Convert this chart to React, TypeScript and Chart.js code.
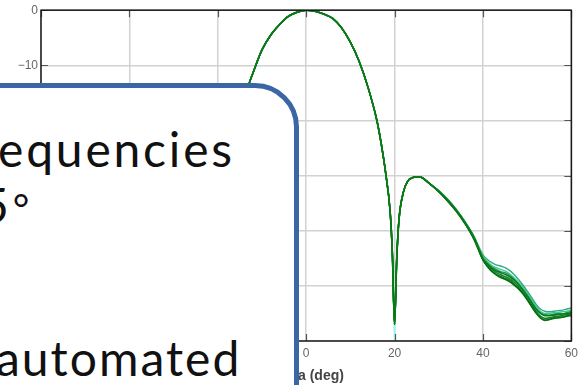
import React, { useEffect, useRef } from "react";
import { Chart, registerables } from "chart.js";

Chart.register(...registerables);

// Shared beam (theta in deg, gain in dB) up to the first sidelobe
const beamTheta = [-60, -56, -52, -48, -44, -40, -36, -32, -28, -25, -23, -22, -21, -20.5, -20, -19.5, -19, -18, -17, -16, -14, -13, -12, -10, -8, -6, -4, -2, 0, 2, 4, 6, 8, 10, 12, 14, 16, 17, 18, 19, 19.5, 20, 20.5, 21, 22, 23, 24, 25, 26, 28];
const beamGain = [-55, -55.5, -54, -49.5, -47.6, -44.5, -38.6, -34.4, -31.5, -30.2, -31, -33, -38, -45, -57, -44, -37.5, -31, -26, -22, -16, -13.5, -11.3, -7.2, -4.5, -2.6, -1.1, -0.35, 0, -0.2, -0.7, -1.5, -3.2, -5.8, -9.3, -14.0, -20.0, -24.3, -29.6, -36.5, -44, -57, -45, -38, -33, -31, -30.4, -30.2, -30.3, -31.5];

// Tail region, where the individual traces spread apart
const tailTheta = [30, 32, 34, 36, 38, 40, 41, 42, 43, 44, 45, 46, 47, 48, 49, 50, 51, 52, 53, 54, 55, 56, 57, 58, 59, 60];
const tailA = [-32.7, -34.3, -36.2, -38.4, -41.0, -44.4, -45.2, -45.8, -46.2, -46.4, -46.7, -47.2, -47.9, -48.8, -49.8, -50.9, -52.1, -53.3, -54.2, -54.6, -54.7, -54.6, -54.5, -54.4, -54.2, -54.0];
const tailB = [-32.9, -34.6, -36.5, -38.8, -41.6, -45.3, -46.5, -47.4, -48.0, -48.5, -48.8, -49.2, -49.8, -50.5, -51.4, -52.5, -53.7, -54.9, -55.8, -56.2, -56.1, -55.9, -55.8, -55.7, -55.5, -55.4];
const tailC = [-32.8, -34.4, -36.3, -38.5, -41.2, -44.7, -45.6, -46.3, -46.7, -47.0, -47.3, -47.8, -48.5, -49.3, -50.2, -51.3, -52.5, -53.7, -54.6, -55.0, -55.0, -54.8, -54.8, -54.7, -54.6, -54.4];
const tailD = [-32.8, -34.4, -36.3, -38.6, -41.3, -45.0, -46.0, -46.8, -47.3, -47.6, -47.9, -48.3, -48.9, -49.7, -50.7, -51.8, -53.0, -54.2, -55.0, -55.4, -55.4, -55.3, -55.2, -55.1, -55.0, -54.9];
const tailE = [-32.9, -34.5, -36.4, -38.7, -41.4, -45.2, -46.2, -47.0, -47.6, -48.0, -48.3, -48.7, -49.3, -50.1, -51.1, -52.2, -53.4, -54.6, -55.5, -55.9, -55.8, -55.6, -55.5, -55.4, -55.2, -55.1];
const tailF = [-32.7, -34.3, -36.2, -38.5, -41.2, -44.9, -45.8, -46.5, -47.0, -47.4, -47.6, -48.0, -48.7, -49.6, -50.5, -51.5, -52.8, -54.0, -54.8, -55.2, -55.3, -55.1, -55.0, -55.1, -54.8, -54.6];
const tailG = [-32.9, -34.6, -36.5, -38.7, -41.5, -45.3, -46.4, -47.3, -47.9, -48.3, -48.6, -49.0, -49.6, -50.4, -51.3, -52.5, -53.7, -54.9, -55.8, -56.3, -56.1, -55.8, -55.6, -55.7, -55.4, -55.3];

// Deepest part of the null seen in a lighter trace
const nullTheta = [19.5, 20, 20.5];
const nullGain = [-44, -60, -45];

const traceColors = ["#0b7a14", "#067012", "#12822a", "#2fae7c", "#46c29c", "#1f9a5c", "#0f7b1e"];

const xTicks = [-60, -40, -20, 0, 20, 40, 60];
const yTicks = [-60, -50, -40, -30, -20, -10, 0];

const fmt = (v: number) => (v < 0 ? "\u2212" + Math.abs(v) : String(v));

export default function App() {
  const ref = useRef<HTMLCanvasElement>(null);

  useEffect(() => {
    if (!ref.current) return;
    const tails = [tailD, tailB, tailE, tailA, tailC, tailF, tailG];
    const datasets: any[] = tails.map((t, k) => ({
      data: beamTheta
        .map((x, i) => ({ x, y: beamGain[i] }))
        .concat(tailTheta.map((x, i) => ({ x, y: t[i] }))),
      borderColor: traceColors[k],
      borderWidth: k < 3 ? 1.6 : 1.4,
      pointRadius: 0,
      fill: false,
      cubicInterpolationMode: "monotone",
    }));
    datasets.push({
      data: nullTheta.map((x, i) => ({ x, y: nullGain[i] })),
      borderColor: "#9ff3ec",
      borderWidth: 1.5,
      pointRadius: 0,
      fill: false,
    });

    const frame = {
      id: "frame",
      afterDatasetsDraw(chart: any) {
        const { ctx, chartArea: a, scales } = chart;
        ctx.save();
        ctx.strokeStyle = "#555";
        ctx.lineWidth = 1.2;
        ctx.beginPath();
        xTicks.forEach((v) => {
          const px = Math.round(scales.x.getPixelForValue(v)) + 0.5;
          ctx.moveTo(px, a.bottom);
          ctx.lineTo(px, a.bottom - 7);
          ctx.moveTo(px, a.top);
          ctx.lineTo(px, a.top + 7);
        });
        yTicks.forEach((v) => {
          const py = Math.round(scales.y.getPixelForValue(v)) + 0.5;
          ctx.moveTo(a.left, py);
          ctx.lineTo(a.left + 7, py);
          ctx.moveTo(a.right, py);
          ctx.lineTo(a.right - 7, py);
        });
        ctx.stroke();
        ctx.strokeStyle = "#1a1a1a";
        ctx.lineWidth = 1.5;
        ctx.strokeRect(a.left, a.top, a.right - a.left, a.bottom - a.top);
        ctx.restore();
      },
    };

    const chart = new Chart(ref.current, {
      type: "line",
      data: { datasets },
      options: {
        animation: false,
        responsive: false,
        maintainAspectRatio: false,
        layout: { padding: { left: 0, top: 7, right: 9, bottom: 0 } },
        plugins: { legend: { display: false }, tooltip: { enabled: false } },
        scales: {
          x: {
            type: "linear",
            min: -60,
            max: 60,
            afterBuildTicks: (s: any) => {
              s.ticks = xTicks.map((v) => ({ value: v }));
            },
            ticks: {
              color: "#666",
              font: { family: "Liberation Sans", size: 12 },
              padding: 5,
              maxRotation: 0,
              callback: (v: any) => fmt(Number(v)),
            },
            grid: { color: "#d2d2d2", lineWidth: 1.5, drawTicks: false },
            border: { display: false },
            title: {
              display: true,
              text: "Theta (deg)",
              color: "#444",
              font: { family: "Liberation Sans", size: 14, weight: "bold" },
              padding: { top: 1, bottom: 0 },
            },
            afterFit: (s: any) => {
              s.height = 44;
            },
          },
          y: {
            type: "linear",
            min: -60,
            max: 0,
            afterBuildTicks: (s: any) => {
              s.ticks = yTicks.map((v) => ({ value: v }));
            },
            ticks: {
              color: "#666",
              font: { family: "Liberation Sans", size: 12 },
              padding: 3,
              callback: (v: any) => fmt(Number(v)),
            },
            grid: { color: "#d2d2d2", lineWidth: 1.5, drawTicks: false },
            border: { display: false },
            afterFit: (s: any) => {
              s.width = 41;
            },
          },
        },
      },
      plugins: [frame],
    } as any);
    return () => chart.destroy();
  }, []);

  const textStyle: React.CSSProperties = {
    position: "absolute",
    fontFamily: "Lato, 'Noto Sans', sans-serif",
    fontSize: 48,
    lineHeight: "48px",
    color: "#111",
    whiteSpace: "nowrap",
  };

  return (
    <div
      style={{
        position: "fixed",
        left: 0,
        top: 0,
        width: 583,
        height: 385,
        overflow: "hidden",
        background: "#fff",
      }}
    >
      <canvas ref={ref} width={583} height={385} style={{ position: "absolute", left: 0, top: 0 }} />
      <div
        style={{
          position: "absolute",
          left: -60,
          top: 83,
          width: 359,
          height: 400,
          boxSizing: "border-box",
          border: "5.5px solid #3a66a6",
          borderRadius: 44,
          background: "#fff",
        }}
      />
      <div style={{ ...textStyle, left: -2, top: 125, letterSpacing: "2.8px" }}>equencies</div>
      <div style={{ ...textStyle, left: -19, top: 181 }}>
        <span style={{ letterSpacing: "4px" }}>5</span>
        <span style={{ fontSize: 40 }}>°</span>
      </div>
      <div style={{ ...textStyle, left: -4, top: 334, letterSpacing: "2px" }}>automated</div>
    </div>
  );
}
